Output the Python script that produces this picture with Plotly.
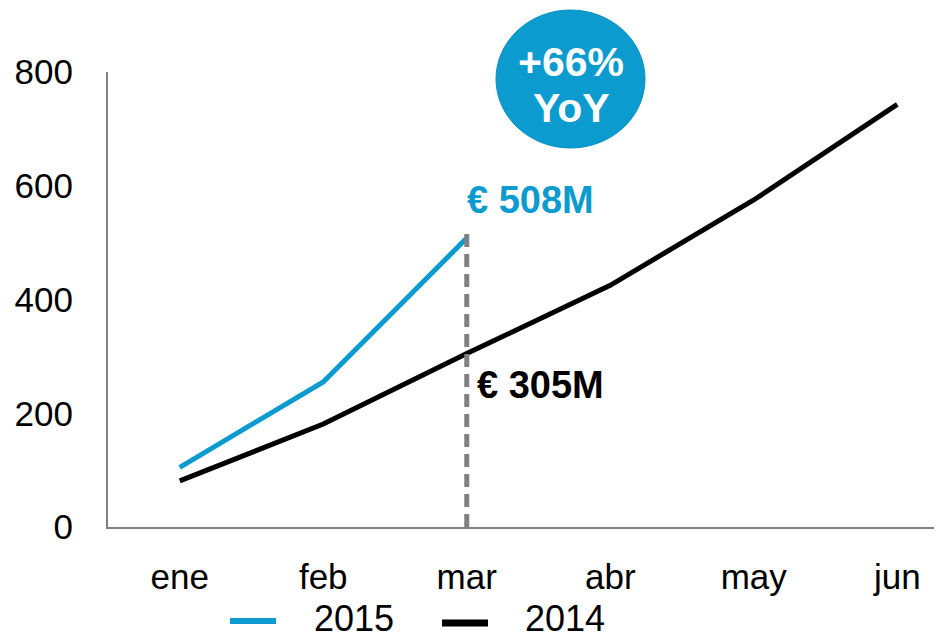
import plotly.graph_objects as go

months = ["ene", "feb", "mar", "abr", "may", "jun"]
sales_2014 = [81, 181, 305, 425, 575, 743]
months_2015 = ["ene", "feb", "mar"]
sales_2015 = [105, 255, 508]
y_ticks = [0, 200, 400, 600, 800]
marker_top = 522

BLUE = "#0B9BCF"
FONT = "Liberation Sans, Arial, sans-serif"

OFF = 8  # page body margin
W, H = 942, 639
L, T = 108 - OFF, 72 - OFF
R = OFF
B = H - (527 - OFF)
pw, ph = W - L - R, H - T - B

def px(x):
    return (x - OFF - L) / pw

def py(y):
    return (H - B - (y - OFF)) / ph

fig = go.Figure()
fig.add_trace(go.Scatter(x=months, y=sales_2014, mode="lines", name="2014",
                         line=dict(color="black", width=5), showlegend=False))
fig.add_trace(go.Scatter(x=months_2015, y=sales_2015, mode="lines", name="2015",
                         line=dict(color=BLUE, width=5), showlegend=False))
fig.add_trace(go.Scatter(x=["mar", "mar"], y=[0, marker_top], mode="lines",
                         line=dict(color="#808080", width=5, dash="13px,7px"),
                         showlegend=False, hoverinfo="skip"))

fig.add_annotation(x="mar", y=575, text="<b>€ 508M</b>", showarrow=False,
                   xanchor="left", yanchor="middle", xshift=-2,
                   font=dict(family=FONT, size=38, color=BLUE))
fig.add_annotation(x="mar", y=250, text="<b>€ 305M</b>", showarrow=False,
                   xanchor="left", yanchor="middle", xshift=8,
                   font=dict(family=FONT, size=38, color="black"))

# bubble
fig.add_shape(type="circle", xref="paper", yref="paper",
              x0=px(496), x1=px(645), y0=py(148), y1=py(10),
              fillcolor=BLUE, line=dict(color="#0A8FC0", width=1), layer="above")
fig.add_annotation(xref="paper", yref="paper", x=px(571), y=py(62),
                   text="<b>+66%</b>", showarrow=False, yanchor="middle",
                   font=dict(family=FONT, size=41, color="white"))
fig.add_annotation(xref="paper", yref="paper", x=px(571), y=py(108),
                   text="<b>YoY</b>", showarrow=False, yanchor="middle",
                   font=dict(family=FONT, size=41, color="white"))

# legend
fig.add_shape(type="line", xref="paper", yref="paper",
              x0=px(230), x1=px(276), y0=py(621), y1=py(621),
              line=dict(color=BLUE, width=6))
fig.add_annotation(xref="paper", yref="paper", x=px(312), y=py(618),
                   text="2015", showarrow=False, xanchor="left", yanchor="middle",
                   font=dict(family=FONT, size=36, color="black"))
fig.add_shape(type="line", xref="paper", yref="paper",
              x0=px(442), x1=px(488), y0=py(623), y1=py(623),
              line=dict(color="black", width=7))
fig.add_annotation(xref="paper", yref="paper", x=px(523), y=py(618),
                   text="2014", showarrow=False, xanchor="left", yanchor="middle",
                   font=dict(family=FONT, size=36, color="black"))

fig.update_layout(
    width=W, height=H,
    margin=dict(l=L, r=R, t=T, b=B, autoexpand=False),
    paper_bgcolor="white", plot_bgcolor="white",
    showlegend=False,
    font=dict(family=FONT, size=35, color="black"),
)
fig.update_xaxes(type="category", categoryorder="array", categoryarray=months,
                 range=[-0.5, -0.5 + pw / 143.5], automargin=False,
                 showgrid=False, zeroline=False, showline=True,
                 linecolor="#808080", linewidth=2,
                 ticks="outside", ticklen=18, tickcolor="rgba(0,0,0,0)",
                 tickfont=dict(family=FONT, size=35, color="black"))
fig.update_yaxes(range=[0, 800], tickvals=y_ticks, automargin=False,
                 showgrid=False, zeroline=False, showline=True,
                 linecolor="#808080", linewidth=2,
                 ticks="outside", ticklen=26, tickcolor="rgba(0,0,0,0)",
                 tickfont=dict(family=FONT, size=35, color="black"))

fig.write_html("out.html")
